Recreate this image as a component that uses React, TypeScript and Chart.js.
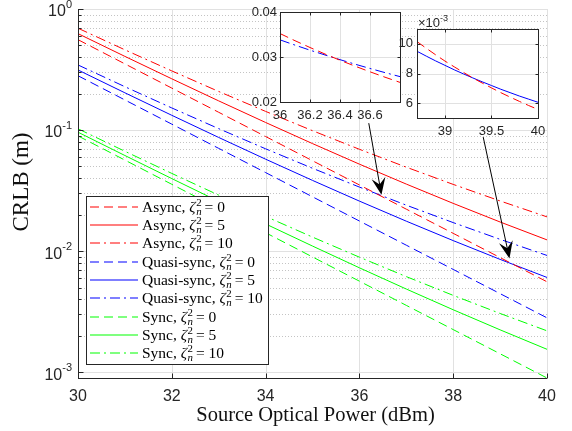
import React, { useEffect, useRef } from 'react';
import { Chart, registerables } from 'chart.js';
Chart.register(...registerables);

// ---------------- data ----------------
const powerDbm = [30, 31, 32, 33, 34, 35, 36, 37, 38, 39, 40];
const asyncZ0 = [0.558, 0.3521, 0.2221, 0.1402, 0.08844, 0.0558, 0.03521, 0.02221, 0.01402, 0.008844, 0.00558];
const asyncZ5 = [0.626, 0.4061, 0.2651, 0.1742, 0.1155, 0.0773, 0.05229, 0.03578, 0.02479, 0.0174, 0.01238];
const asyncZ10 = [0.694, 0.4601, 0.308, 0.2083, 0.1426, 0.09881, 0.06937, 0.04935, 0.03557, 0.02596, 0.01918];
const quasiZ0 = [0.281, 0.1773, 0.1119, 0.07058, 0.04454, 0.0281, 0.01773, 0.01119, 0.007058, 0.004454, 0.00281];
const quasiZ5 = [0.3135, 0.2031, 0.1324, 0.08687, 0.05747, 0.03838, 0.02589, 0.01767, 0.01221, 0.008545, 0.00606];
const quasiZ10 = [0.345, 0.2281, 0.1523, 0.1027, 0.07001, 0.04834, 0.03381, 0.02396, 0.0172, 0.01251, 0.00921];
const syncZ0 = [0.0895, 0.05647, 0.03563, 0.02248, 0.01419, 0.00895, 0.005647, 0.003563, 0.002248, 0.001419, 0.000895];
const syncZ5 = [0.096, 0.06163, 0.03973, 0.02574, 0.01677, 0.01101, 0.00728, 0.00486, 0.003278, 0.002237, 0.001545];
const syncZ10 = [0.1025, 0.0668, 0.04383, 0.029, 0.01936, 0.01306, 0.008913, 0.006157, 0.004309, 0.003055, 0.002195];

const xTicksMain = [30, 32, 34, 36, 38, 40];
const yTicksMain = [0.001, 0.01, 0.1, 1];
const yMinMain = 0.000895;
const yMaxMain = 1;

// inset 1 (36 .. 36.8 dBm)
const inset1Power = [36, 36.1, 36.2, 36.3, 36.4, 36.5, 36.6, 36.7, 36.8];
const inset1Async0 = [0.03521, 0.03362, 0.03211, 0.03066, 0.02928, 0.02797, 0.02671, 0.02551, 0.02436];
const inset1Quasi10 = [0.03381, 0.03264, 0.03152, 0.03045, 0.02941, 0.02841, 0.02745, 0.02653, 0.02564];
const inset1XTicks = [36, 36.2, 36.4, 36.6];
const inset1YTicks = [0.02, 0.03, 0.04];

// inset 2 (38.7 .. 40 dBm), values in units of 1e-3 m
const inset2Power = [38.7, 38.8, 38.9, 39, 39.1, 39.2, 39.3, 39.4, 39.5, 39.6, 39.7, 39.8, 39.9, 40];
const inset2Async0 = [10.15, 9.7, 9.26, 8.84, 8.45, 8.07, 7.7, 7.36, 7.03, 6.71, 6.41, 6.12, 5.84, 5.58];
const inset2Quasi5 = [9.5, 9.17, 8.85, 8.55, 8.25, 7.97, 7.7, 7.44, 7.19, 6.94, 6.71, 6.48, 6.27, 6.06];
const inset2XTicks = [39, 39.5, 40];
const inset2YTicks = [6, 8, 10];

// arrows in data coordinates of the main axes: [tailX, tailY, tipX, tipY]
const arrow1 = [36.2, 0.114, 36.47, 0.0292];
const arrow2 = [38.64, 0.0875, 39.2, 0.0087];

const legendNames = ['Async', 'Async', 'Async', 'Quasi-sync', 'Quasi-sync', 'Quasi-sync', 'Sync', 'Sync', 'Sync'];
const legendZeta = ['0', '5', '10', '0', '5', '10', '0', '5', '10'];

// ---------------- styles ----------------
const RED = '#ff0000';
const BLUE = '#0000ff';
const GREEN = '#00ff00';
const DASH = [9, 5];
const DASHDOT = [10, 4, 2, 4];
const AXIS = '#262626';
const GRID = '#e1e1e1';
const MINOR = '#c4c4c4';
const SANS = '"Liberation Sans", Arial, sans-serif';
const SERIF = '"Liberation Serif", "Times New Roman", serif';

const seriesStyle = [
  { c: RED, d: DASH }, { c: RED, d: [] }, { c: RED, d: DASHDOT },
  { c: BLUE, d: DASH }, { c: BLUE, d: [] }, { c: BLUE, d: DASHDOT },
  { c: GREEN, d: DASH }, { c: GREEN, d: [] }, { c: GREEN, d: DASHDOT },
];
const seriesData = [asyncZ0, asyncZ5, asyncZ10, quasiZ0, quasiZ5, quasiZ10, syncZ0, syncZ5, syncZ10];

function hline(ctx: any, x0: number, x1: number, y: number) {
  ctx.beginPath(); ctx.moveTo(x0, y); ctx.lineTo(x1, y); ctx.stroke();
}
function vline(ctx: any, x: number, y0: number, y1: number) {
  ctx.beginPath(); ctx.moveTo(x, y0); ctx.lineTo(x, y1); ctx.stroke();
}

function drawArrow(ctx: any, x0: number, y0: number, x1: number, y1: number) {
  const a = Math.atan2(y1 - y0, x1 - x0);
  const ux = Math.cos(a), uy = Math.sin(a);
  const nx = -uy, ny = ux;
  const L = 17, W = 7;
  ctx.save();
  ctx.strokeStyle = '#000'; ctx.fillStyle = '#000'; ctx.lineWidth = 1; ctx.setLineDash([]);
  ctx.beginPath(); ctx.moveTo(x0, y0); ctx.lineTo(x1 - ux * L * 0.5, y1 - uy * L * 0.5); ctx.stroke();
  const bx = x1 - ux * L, by = y1 - uy * L;
  const kx = x1 - ux * L * 0.62, ky = y1 - uy * L * 0.62;
  ctx.beginPath();
  ctx.moveTo(x1, y1);
  ctx.lineTo(bx + nx * W, by + ny * W);
  ctx.lineTo(kx, ky);
  ctx.lineTo(bx - nx * W, by - ny * W);
  ctx.closePath(); ctx.fill();
  ctx.restore();
}

function drawLegendText(ctx: any, x: number, yb: number, name: string, val: string) {
  const fs = 15.5;
  ctx.fillStyle = '#000';
  ctx.textBaseline = 'alphabetic'; ctx.textAlign = 'left';
  ctx.font = `${fs}px ${SERIF}`;
  const p = name + ', ';
  ctx.fillText(p, x, yb); x += ctx.measureText(p).width;
  ctx.font = `italic ${fs}px ${SERIF}`;
  ctx.fillText('ζ', x, yb); x += ctx.measureText('ζ').width + 0.5;
  ctx.font = `${fs * 0.7}px ${SERIF}`;
  ctx.fillText('2', x, yb - 6); const w2 = ctx.measureText('2').width;
  ctx.font = `italic ${fs * 0.7}px ${SERIF}`;
  ctx.fillText('n', x, yb + 3); const wn = ctx.measureText('n').width;
  x += Math.max(w2, wn) + 3;
  ctx.font = `${fs}px ${SERIF}`;
  ctx.fillText('= ' + val, x, yb);
}

const mainDecor = {
  id: 'mainDecor',
  beforeDatasetsDraw(chart: any) {
    const { ctx, chartArea: ca, scales } = chart;
    const x = scales.x, y = scales.y;
    ctx.save();
    ctx.lineWidth = 1;
    ctx.strokeStyle = MINOR; ctx.setLineDash([1, 2]);
    for (let k = -4; k < 0; k++) {
      for (let m = 2; m <= 9; m++) {
        const v = m * Math.pow(10, k);
        if (v < yMinMain || v > yMaxMain) continue;
        hline(ctx, ca.left, ca.right, Math.round(y.getPixelForValue(v)) + 0.5);
      }
    }
    ctx.setLineDash([]); ctx.strokeStyle = GRID;
    yTicksMain.forEach((v) => hline(ctx, ca.left, ca.right, Math.round(y.getPixelForValue(v)) + 0.5));
    xTicksMain.forEach((v) => vline(ctx, Math.round(x.getPixelForValue(v)) + 0.5, ca.top, ca.bottom));
    ctx.restore();
  },
  afterDatasetsDraw(chart: any) {
    const { ctx, chartArea: ca, scales } = chart;
    const x = scales.x, y = scales.y;
    ctx.save();
    // axes lines
    ctx.strokeStyle = AXIS; ctx.lineWidth = 1; ctx.setLineDash([]);
    const L = Math.round(ca.left) + 0.5, B = Math.round(ca.bottom) + 0.5;
    vline(ctx, L, ca.top, ca.bottom + 0.5);
    hline(ctx, ca.left, ca.right, B);
    // ticks
    xTicksMain.forEach((v) => { const px = Math.round(x.getPixelForValue(v)) + 0.5; vline(ctx, px, B, B - 5); });
    yTicksMain.forEach((v) => { const py = Math.round(y.getPixelForValue(v)) + 0.5; hline(ctx, L, L + 5, py); });
    for (let k = -4; k < 0; k++) {
      for (let m = 2; m <= 9; m++) {
        const v = m * Math.pow(10, k);
        if (v < yMinMain || v > yMaxMain) continue;
        const py = Math.round(y.getPixelForValue(v)) + 0.5;
        hline(ctx, L, L + 3, py);
      }
    }
    // y tick labels with superscripts
    ctx.fillStyle = AXIS; ctx.textBaseline = 'middle'; ctx.textAlign = 'left';
    yTicksMain.forEach((v) => {
      const py = y.getPixelForValue(v);
      const e = Math.round(Math.log10(v));
      const sup = e === 0 ? '0' : '-' + String(-e);
      ctx.font = `16px ${SANS}`; const w10 = ctx.measureText('10').width;
      ctx.font = `11px ${SANS}`; const ws = ctx.measureText(sup).width;
      const xs = 72 - w10 - ws;
      ctx.font = `16px ${SANS}`; ctx.fillText('10', xs, py + 3);
      ctx.font = `11px ${SANS}`; ctx.fillText(sup, xs + w10, py - 4);
    });
    // axis titles
    ctx.fillStyle = '#111'; ctx.textAlign = 'center'; ctx.textBaseline = 'middle';
    ctx.font = `20.5px ${SERIF}`;
    ctx.fillText('Source Optical Power (dBm)', (ca.left + ca.right) / 2 + 3, 416);
    ctx.save();
    ctx.translate(22, 182); ctx.rotate(-Math.PI / 2);
    ctx.font = `23px ${SERIF}`;
    ctx.fillText('CRLB (m)', 0, 0);
    ctx.restore();
    // legend
    const lx = ca.left + 8, lw = 182, lh = 168;
    const ly = ca.bottom - 14 - lh;
    ctx.fillStyle = '#fff'; ctx.fillRect(lx, ly, lw, lh);
    ctx.strokeStyle = AXIS; ctx.lineWidth = 1;
    ctx.strokeRect(Math.round(lx) + 0.5, Math.round(ly) + 0.5, lw, lh);
    for (let i = 0; i < 9; i++) {
      const cy = ly + 10.5 + i * 18.35;
      const st = seriesStyle[i];
      ctx.strokeStyle = st.c; ctx.setLineDash(st.d); ctx.lineWidth = 1.2;
      hline(ctx, lx + 4, lx + 52, Math.round(cy));
      ctx.setLineDash([]);
      drawLegendText(ctx, lx + 56, cy + 5, legendNames[i], legendZeta[i]);
    }
    // arrows
    [arrow1, arrow2].forEach((a) => {
      drawArrow(ctx, x.getPixelForValue(a[0]), y.getPixelForValue(a[1]), x.getPixelForValue(a[2]), y.getPixelForValue(a[3]));
    });
    ctx.restore();
  },
};

function makeInsetDecor(xTicks: number[], yTicks: number[], extra?: (chart: any) => void) {
  return {
    id: 'insetDecor',
    beforeDraw(chart: any) {
      const { ctx, chartArea: ca } = chart;
      ctx.save(); ctx.fillStyle = '#fff';
      ctx.fillRect(ca.left, ca.top, ca.right - ca.left, ca.bottom - ca.top);
      ctx.restore();
    },
    beforeDatasetsDraw(chart: any) {
      const { ctx, chartArea: ca, scales } = chart;
      ctx.save(); ctx.strokeStyle = GRID; ctx.lineWidth = 1;
      xTicks.forEach((v) => vline(ctx, Math.round(scales.x.getPixelForValue(v)) + 0.5, ca.top, ca.bottom));
      yTicks.forEach((v) => hline(ctx, ca.left, ca.right, Math.round(scales.y.getPixelForValue(v)) + 0.5));
      ctx.restore();
    },
    afterDatasetsDraw(chart: any) {
      const { ctx, chartArea: ca, scales } = chart;
      ctx.save(); ctx.strokeStyle = AXIS; ctx.lineWidth = 1; ctx.setLineDash([]);
      const l = Math.round(ca.left) + 0.5, r = Math.round(ca.right) + 0.5;
      const t = Math.round(ca.top) + 0.5, b = Math.round(ca.bottom) + 0.5;
      ctx.strokeRect(l, t, r - l, b - t);
      xTicks.forEach((v) => {
        const px = Math.round(scales.x.getPixelForValue(v)) + 0.5;
        vline(ctx, px, b, b - 3); vline(ctx, px, t, t + 3);
      });
      yTicks.forEach((v) => {
        const py = Math.round(scales.y.getPixelForValue(v)) + 0.5;
        hline(ctx, l, l + 3, py); hline(ctx, r, r - 3, py);
      });
      if (extra) extra(chart);
      ctx.restore();
    },
  };
}

function lineDs(xs: number[], ys: number[], color: string, dash: number[]) {
  return {
    data: xs.map((x, i) => ({ x, y: ys[i] })),
    borderColor: color,
    backgroundColor: color,
    borderWidth: 1,
    borderDash: dash,
    pointRadius: 0,
    fill: false,
    tension: 0,
  };
}

function insetConfig(p: any): any {
  return {
    type: 'line',
    data: { datasets: p.datasets },
    options: {
      animation: false,
      responsive: false,
      events: [],
      layout: { padding: p.padding },
      plugins: { legend: { display: false }, tooltip: { enabled: false } },
      scales: {
        x: {
          type: 'linear', min: p.xMin, max: p.xMax,
          grid: { display: false, drawTicks: false }, border: { display: false },
          afterBuildTicks: (s: any) => { s.ticks = p.xTicks.map((v: number) => ({ value: v })); },
          afterFit: (s: any) => { s.height = p.xH; },
          ticks: { autoSkip: false, maxRotation: 0, minRotation: 0, padding: p.xPad, color: AXIS,
            font: { family: SANS, size: 13 }, callback: p.xFmt },
        },
        y: {
          type: 'linear', min: p.yMin, max: p.yMax,
          grid: { display: false, drawTicks: false }, border: { display: false },
          afterBuildTicks: (s: any) => { s.ticks = p.yTicks.map((v: number) => ({ value: v })); },
          afterFit: (s: any) => { s.width = p.yW; },
          ticks: { autoSkip: false, padding: p.yPad, color: AXIS, font: { family: SANS, size: 13 }, callback: p.yFmt },
        },
      },
    },
    plugins: [makeInsetDecor(p.xTicks, p.yTicks, p.extra)],
  };
}

export default function App() {
  const mainRef = useRef<HTMLCanvasElement>(null);
  const in1Ref = useRef<HTMLCanvasElement>(null);
  const in2Ref = useRef<HTMLCanvasElement>(null);

  useEffect(() => {
    document.body.style.margin = '0';
    const charts: Chart[] = [];
    const mainCfg: any = {
      type: 'line',
      data: {
        datasets: seriesData.map((d, i) => lineDs(powerDbm, d, seriesStyle[i].c, seriesStyle[i].d)),
      },
      options: {
        animation: false,
        responsive: false,
        events: [],
        layout: { padding: { left: 0, top: 9, right: 25, bottom: 0 } },
        plugins: { legend: { display: false }, tooltip: { enabled: false } },
        scales: {
          x: {
            type: 'linear', min: 30, max: 40,
            grid: { display: false, drawTicks: false }, border: { display: false },
            afterBuildTicks: (s: any) => { s.ticks = xTicksMain.map((v) => ({ value: v })); },
            afterFit: (s: any) => { s.height = 53; },
            ticks: { autoSkip: false, maxRotation: 0, minRotation: 0, padding: 9, color: AXIS,
              font: { family: SANS, size: 16 } },
          },
          y: {
            type: 'logarithmic', min: yMinMain, max: yMaxMain,
            grid: { display: false, drawTicks: false }, border: { display: false },
            afterBuildTicks: (s: any) => { s.ticks = yTicksMain.map((v) => ({ value: v })); },
            afterFit: (s: any) => { s.width = 78; },
            ticks: { display: false },
          },
        },
      },
      plugins: [mainDecor],
    };
    charts.push(new Chart(mainRef.current as HTMLCanvasElement, mainCfg));

    charts.push(new Chart(in1Ref.current as HTMLCanvasElement, insetConfig({
      datasets: [lineDs(inset1Power, inset1Async0, RED, DASH), lineDs(inset1Power, inset1Quasi10, BLUE, DASHDOT)],
      padding: { left: 0, top: 12, right: 10, bottom: 0 },
      xMin: 36, xMax: 36.8, yMin: 0.02, yMax: 0.04,
      xTicks: inset1XTicks, yTicks: inset1YTicks,
      xH: 33, yW: 50, xPad: 6, yPad: 3,
      xFmt: (v: any) => String(+Number(v).toFixed(1)),
      yFmt: (v: any) => Number(v).toFixed(2),
    })));

    charts.push(new Chart(in2Ref.current as HTMLCanvasElement, insetConfig({
      datasets: [lineDs(inset2Power, inset2Async0, RED, DASH), lineDs(inset2Power, inset2Quasi5, BLUE, [])],
      padding: { left: 0, top: 29, right: 22, bottom: 0 },
      xMin: 38.7, xMax: 40, yMin: 5, yMax: 11,
      xTicks: inset2XTicks, yTicks: inset2YTicks,
      xH: 27, yW: 37, xPad: 6, yPad: 4,
      xFmt: (v: any) => String(+Number(v).toFixed(1)),
      yFmt: (v: any) => String(Math.round(Number(v))),
      extra: (chart: any) => {
        const { ctx, chartArea: ca } = chart;
        ctx.fillStyle = AXIS; ctx.textAlign = 'left'; ctx.textBaseline = 'alphabetic';
        ctx.font = `13px ${SANS}`;
        ctx.fillText('×10', ca.left + 1, ca.top - 2);
        const w = ctx.measureText('×10').width;
        ctx.font = `9px ${SANS}`;
        ctx.fillText('-3', ca.left + 1 + w, ca.top - 8);
      },
    })));

    return () => { charts.forEach((c) => c.destroy()); };
  }, []);

  return (
    <div style={{ position: 'relative', width: 572, height: 431, background: '#fff', overflow: 'hidden' }}>
      <canvas ref={mainRef} width={572} height={431} style={{ position: 'absolute', left: 0, top: 0 }} />
      <canvas ref={in1Ref} width={180} height={135} style={{ position: 'absolute', left: 230, top: 0 }} />
      <canvas ref={in2Ref} width={180} height={145} style={{ position: 'absolute', left: 380, top: 0 }} />
    </div>
  );
}
